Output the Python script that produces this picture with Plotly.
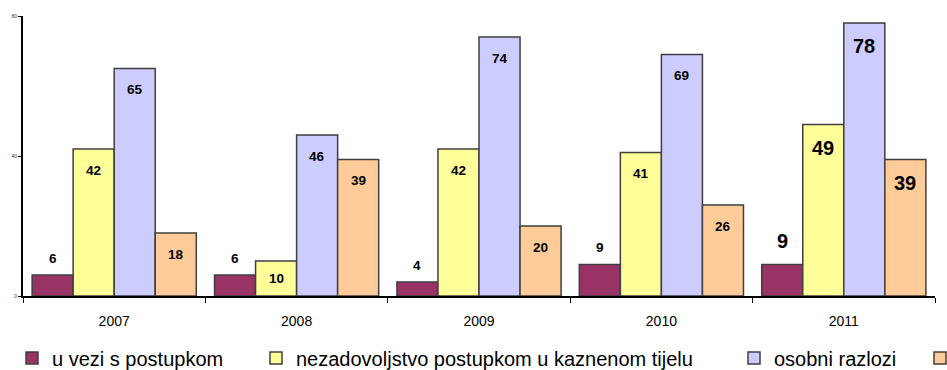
import plotly.graph_objects as go

# Categories (years) and the four series of counts
years = ["2007", "2008", "2009", "2010", "2011"]
series_names = [
    "u vezi s postupkom",
    "nezadovoljstvo postupkom u kaznenom tijelu",
    "osobni razlozi",
    "ostalo",
]
# Legend entries; the last one has only its swatch visible at the right edge
legend_texts = [
    "u vezi s postupkom",
    "nezadovoljstvo postupkom u kaznenom tijelu",
    "osobni razlozi",
    "",
]
u_vezi = [6, 6, 4, 9, 9]
nezadovoljstvo = [42, 10, 42, 41, 49]
osobni = [65, 46, 74, 69, 78]
ostalo = [18, 39, 20, 26, 39]
y_ticks = [0, 40, 80]

series_values = [u_vezi, nezadovoljstvo, osobni, ostalo]
colors = ["#993366", "#FFFF99", "#CCCCFF", "#FFCC99"]
edge = "#3f3f3f"
font = "Liberation Sans, Arial, sans-serif"

# Layout geometry (pixels)
W, H = 947, 370
M_L, M_R, M_T, M_B = 23, 12, 16, 74
plot_w = W - M_L - M_R
plot_h = H - M_T - M_B
y_max = 80
bargap = 0.1
px_per_unit = plot_h / y_max

# Label font size per year (last year emphasised)
label_sizes = [13.5, 13.5, 13.5, 13.5, 20]

fig = go.Figure()
legend_ids = ["legend", "legend2", "legend3", "legend4"]
for k, (name, text, vals, col) in enumerate(
        zip(series_names, legend_texts, series_values, colors)):
    fig.add_trace(go.Bar(
        x=years, y=vals, name=text,
        marker=dict(color=col, line=dict(color=edge, width=1.5)),
        legend=legend_ids[k],
        hovertemplate=f"{name}<br>%{{x}}: %{{y}}<extra></extra>",
    ))

# Value labels: first series above the bar, the others inside near the top
n = len(series_values)
bar_w = (1 - bargap) / n
annotations = []
for k, vals in enumerate(series_values):
    offset = -(1 - bargap) / 2 + (k + 0.5) * bar_w
    for i, v in enumerate(vals):
        size = label_sizes[i]
        big = size > 15
        if k == 0:
            y, shift = v, (24 if big else 17)
        else:
            inset = 23 if big else 21
            if v * px_per_unit < 2 * inset:
                y, shift = v / 2, 0
            else:
                y, shift = v, -inset
        annotations.append(dict(
            x=i + offset, y=y, xref="x", yref="y",
            text=f"<b>{v}</b>", showarrow=False,
            yanchor="middle", xanchor="center", yshift=shift,
            font=dict(family=font, size=size, color="#000000"),
        ))

# One legend per series so each entry sits at its own position
marker_centers = [32, 276, 754, 940]
legends = {}
for lid, cx in zip(legend_ids, marker_centers):
    legends[lid] = dict(
        x=(cx - 20 - M_L) / plot_w, y=-(358 - (M_T + plot_h)) / plot_h,
        xanchor="left", yanchor="middle", orientation="h",
        bgcolor="rgba(0,0,0,0)", borderwidth=0,
        font=dict(family=font, size=20, color="#000000"),
        itemclick=False, itemdoubleclick=False,
    )

fig.update_layout(
    width=W, height=H,
    margin=dict(l=M_L, r=M_R, t=M_T, b=M_B, pad=0, autoexpand=False),
    paper_bgcolor="white", plot_bgcolor="white",
    barmode="group", bargap=bargap, bargroupgap=0,
    showlegend=True,
    annotations=annotations,
    font=dict(family=font, color="#000000"),
    **legends,
)

fig.update_xaxes(
    type="category", showline=True, linecolor="#000000", linewidth=2,
    ticks="outside", tickson="boundaries", ticklen=5, tickwidth=1,
    tickcolor="#000000", tickfont=dict(family=font, size=14, color="#000000"),
    ticklabelstandoff=11,
    showgrid=False, zeroline=False, fixedrange=True,
)
fig.update_yaxes(
    range=[0, y_max], tickvals=y_ticks, ticktext=[str(t) for t in y_ticks],
    showline=True, linecolor="#000000", linewidth=2,
    ticks="outside", ticklen=3, tickwidth=1, tickcolor="#000000",
    tickfont=dict(family=font, size=5, color="#333333"),
    showgrid=False, zeroline=False, fixedrange=True,
)

fig.write_html("out.html", config={"displayModeBar": False})
